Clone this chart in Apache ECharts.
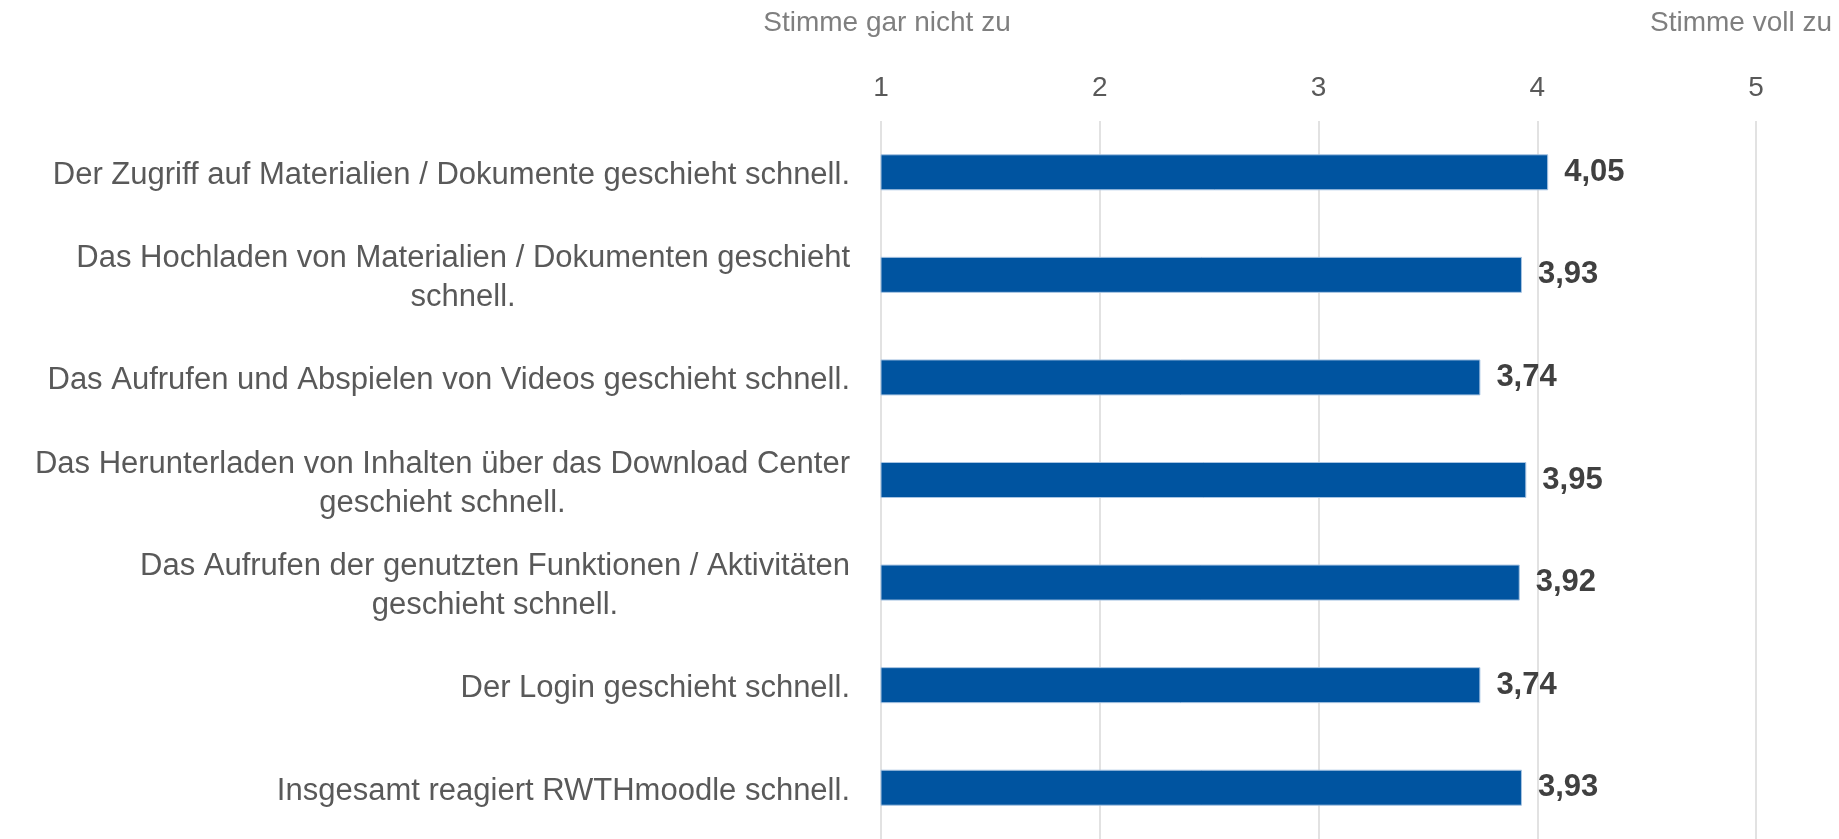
<!DOCTYPE html>
<html>
<head>
<meta charset="utf-8">
<script src="https://cdn.jsdelivr.net/npm/echarts@6/dist/echarts.min.js"></script>
<style>
html,body{margin:0;padding:0;background:#fff;}
#c{width:1839px;height:839px;}
</style>
</head>
<body>
<div id="c"></div>
<script>
var categories = [
  'Der Zugriff auf Materialien / Dokumente geschieht schnell.',
  'Das Hochladen von Materialien / Dokumenten geschieht\nschnell.',
  'Das Aufrufen und Abspielen von Videos geschieht schnell.',
  'Das Herunterladen von Inhalten über das Download Center\ngeschieht schnell.',
  'Das Aufrufen der genutzten Funktionen / Aktivitäten\ngeschieht schnell.',
  'Der Login geschieht schnell.',
  'Insgesamt reagiert RWTHmoodle schnell.'
];
var values = [4.05, 3.93, 3.74, 3.95, 3.92, 3.74, 3.93];
var scaleLow = 'Stimme gar nicht zu';
var scaleHigh = 'Stimme voll zu';

var FONT = '"Liberation Sans", Arial, sans-serif';
var chart = echarts.init(document.getElementById('c'), null, {renderer: 'canvas'});
chart.setOption({
  animation: false,
  backgroundColor: '#ffffff',
  grid: {left: 881, right: 83, top: 121, height: 721},
  xAxis: {
    type: 'value', position: 'top', min: 1, max: 5, interval: 1,
    axisLine: {show: false}, axisTick: {show: false},
    splitLine: {show: true, lineStyle: {color: '#d9d9d9', width: 1.5}},
    axisLabel: {fontFamily: FONT, fontSize: 28, color: '#595959', margin: 19}
  },
  yAxis: {
    type: 'category', inverse: true, data: categories,
    axisLine: {show: false}, axisTick: {show: false},
    axisLabel: {
      fontFamily: FONT, fontSize: 31, color: '#595959', margin: 31, align: 'right',
      lineHeight: 39, padding: [7, 0, 0, 0],
      formatter: function (v) {
        return v.split('\n').map(function (l) { return '{c|' + l + '}'; }).join('\n');
      },
      rich: {c: {align: 'center', fontFamily: FONT, fontSize: 31, color: '#595959', lineHeight: 39}}
    }
  },
  series: [{
    type: 'bar', data: values, barWidth: 36,
    itemStyle: {color: '#0054a0', borderColor: '#a8c4e2', borderWidth: 1},
    label: {
      show: true, position: 'right', distance: 16, padding: [5, 0, 0, 0],
      fontFamily: FONT, fontSize: 31, fontWeight: 'bold', color: '#404040',
      formatter: function (p) { return p.value.toFixed(2).replace('.', ','); }
    }
  }],
  graphic: [
    {type: 'text', x: 887, y: 23, style: {text: scaleLow, fontFamily: FONT, fontSize: 28, fill: '#7f7f7f', align: 'center', verticalAlign: 'middle'}},
    {type: 'text', x: 1832, y: 23, style: {text: scaleHigh, fontFamily: FONT, fontSize: 28, fill: '#7f7f7f', align: 'right', verticalAlign: 'middle'}}
  ]
});
</script>
</body>
</html>
